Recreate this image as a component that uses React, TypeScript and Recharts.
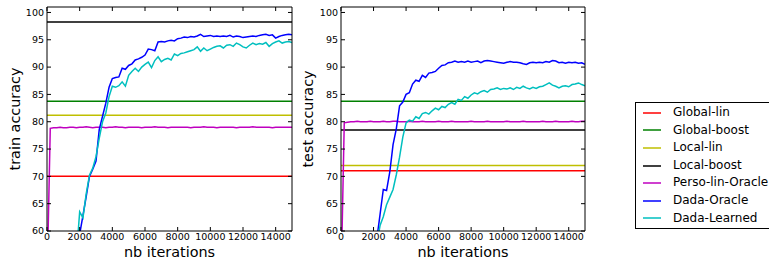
import React from 'react';
import { LineChart, Line, XAxis, YAxis } from 'recharts';

const FONT = '"DejaVu Sans", sans-serif';

// evaluation points (nb iterations)
const iterations = [
  0, 200, 400, 600, 800, 1000, 1200, 1400, 1600, 1800,
  2000, 2200, 2400, 2600, 2800, 3000, 3200, 3400, 3600, 3800,
  4000, 4200, 4400, 4600, 4800, 5000, 5200, 5400, 5600, 5800,
  6000, 6200, 6400, 6600, 6800, 7000, 7200, 7400, 7600, 7800,
  8000, 8200, 8400, 8600, 8800, 9000, 9200, 9400, 9600, 9800,
  10000, 10200, 10400, 10600, 10800, 11000, 11200, 11400, 11600, 11800,
  12000, 12200, 12400, 12600, 12800, 13000, 13200, 13400, 13600, 13800,
  14000, 14200, 14400, 14600, 14800, 15000,
];

const methods = ['Global-lin', 'Global-boost', 'Local-lin', 'Local-boost', 'Perso-lin-Oracle', 'Dada-Oracle', 'Dada-Learned'];
const colors = ['#ff0000', '#008000', '#bfbf00', '#000000', '#bf00bf', '#0000ff', '#00bfbf'];

// constant baselines: Global-lin, Global-boost, Local-lin, Local-boost
const trainBaselines = [70.0, 83.75, 81.2, 98.25];
const testBaselines = [71.05, 83.75, 72.0, 78.5];

const trainOracle = [
  null, null, null, null, null, null, null, null, null, 56.8,
  59.4, 62.8, 66.3, 70.0, 71.3, 72.8, 78.6, 81.0, 83.4, 86.3,
  87.9, 88.1, 88.2, 89.8, 89.6, 90.3, 90.6, 91.3, 91.5, 91.8,
  92.2, 93.3, 93.2, 93.0, 94.6, 94.7, 94.6, 94.8, 94.9, 94.8,
  95.2, 95.3, 95.5, 95.4, 95.6, 95.5, 95.7, 96.0, 95.6, 95.7,
  95.8, 95.6, 95.7, 95.6, 95.7, 95.6, 95.8, 95.5, 95.7, 95.6,
  95.4, 95.5, 95.6, 95.7, 95.6, 95.8, 95.9, 96.0, 95.8, 95.9,
  95.3, 95.6, 95.8, 95.9, 96.0, 95.9,
];
const trainLearned = [
  null, null, null, null, null, null, null, null, null, 55.5,
  63.5, 62.4, 66.8, 70.2, 71.5, 73.6, 77.0, 80.0, 81.6, 84.6,
  86.5, 86.3, 86.6, 87.3, 86.5, 88.5, 89.2, 89.8, 89.2, 90.0,
  90.5, 90.9, 89.9, 91.2, 91.9, 91.0, 91.4, 91.6, 91.3, 92.4,
  92.1, 92.5, 92.6, 92.8, 93.0, 93.2, 93.7, 92.9, 93.5, 93.0,
  93.3, 93.6, 93.8, 93.9, 93.5, 94.0, 94.1, 93.8, 94.4, 94.1,
  93.7, 93.5, 94.0, 94.4, 94.1, 94.3, 94.2, 94.5, 93.8, 94.3,
  94.6, 94.8, 94.4, 94.6, 94.7, 94.5,
];
const trainPerso = [
  50.0, 78.8, 78.9, 78.9, 79.0, 78.9, 78.9, 79.0, 79.0, 78.9,
  79.0, 79.0, 79.1, 79.0, 78.9, 79.0, 79.0, 79.0, 78.9, 79.0,
  79.0, 79.1, 79.0, 79.0, 78.9, 79.0, 79.0, 79.0, 79.0, 78.9,
  79.0, 79.0, 79.0, 79.1, 79.0, 79.0, 79.0, 78.9, 79.0, 79.0,
  79.0, 79.0, 79.0, 79.0, 78.9, 79.0, 79.0, 79.0, 79.1, 79.0,
  79.0, 79.0, 78.9, 79.0, 79.0, 79.0, 79.0, 79.0, 78.9, 79.0,
  79.0, 79.0, 79.0, 79.1, 79.0, 79.0, 79.0, 79.0, 79.0, 78.9,
  79.0, 79.0, 79.0, 79.0, 79.0, 79.0,
];

const testOracle = [
  null, null, null, null, null, null, null, null, null, null,
  55.0, 58.5, 63.0, 67.6, 67.4, 70.8, 75.8, 78.7, 82.9, 83.6,
  85.0, 85.3, 86.9, 87.6, 87.4, 88.5, 88.1, 88.9, 89.0, 89.2,
  89.8, 90.3, 90.4, 90.8, 90.9, 91.1, 90.9, 91.0, 90.9, 91.1,
  90.9, 91.0, 91.1, 90.8, 91.1, 91.2, 91.1, 91.0, 90.9, 90.8,
  90.7, 90.9, 91.0, 90.9, 90.9, 90.8, 90.6, 90.5, 90.8, 90.9,
  90.8, 90.9, 90.8, 91.0, 90.9, 91.2, 91.1, 90.8, 90.9, 90.7,
  90.9, 90.8, 90.9, 90.7, 90.8, 90.5,
];
const testLearned = [
  null, null, null, null, null, null, null, null, null, null,
  54.0, 57.5, 61.0, 62.6, 64.8, 66.2, 67.6, 70.3, 73.5, 77.2,
  79.8, 80.3, 80.1, 80.9, 80.6, 81.5, 81.7, 81.4, 82.0, 82.5,
  82.2, 82.8, 82.6, 83.2, 83.5, 83.2, 84.1, 83.9, 84.6, 84.3,
  84.9, 85.3, 85.1, 85.5, 85.7, 85.4, 85.9, 86.0, 86.2, 85.9,
  86.1, 86.0, 86.2, 85.9, 86.3, 86.1, 86.5, 86.2, 86.0, 86.3,
  86.1, 86.4, 86.5, 86.8, 87.1, 86.7, 86.5, 86.2, 86.5, 86.6,
  86.4, 86.8, 86.9, 87.1, 86.8, 86.6,
];
const testPerso = [
  50.0, 79.8, 79.9, 80.0, 80.0, 80.1, 80.0, 80.0, 80.0, 80.1,
  80.0, 80.0, 80.0, 80.1, 80.0, 80.0, 80.1, 80.1, 80.0, 80.0,
  80.0, 80.1, 80.0, 80.0, 80.0, 80.1, 80.0, 80.0, 80.0, 80.0,
  80.1, 80.0, 80.0, 80.0, 80.1, 80.0, 80.0, 80.0, 80.0, 80.0,
  80.1, 80.0, 80.0, 80.0, 80.0, 80.1, 80.0, 80.0, 80.0, 80.0,
  80.0, 80.1, 80.0, 80.0, 80.0, 80.0, 80.1, 80.0, 80.0, 80.0,
  80.0, 80.0, 80.1, 80.0, 80.0, 80.0, 80.1, 80.0, 80.0, 80.0,
  80.0, 80.1, 80.0, 80.0, 80.1, 80.1,
];

const xTicks = [0, 2000, 4000, 6000, 8000, 10000, 12000, 14000];
const yTicks = [60, 65, 70, 75, 80, 85, 90, 95, 100];
const xDomain = [0, 15000];
const yDomain = [60, 101];

type PanelProps = {
  left: number;
  yAxisWidth: number;
  ylabel: string;
  baselines: number[];
  oracle: (number | null)[];
  learned: (number | null)[];
  perso: number[];
};

function Panel({ left, yAxisWidth, ylabel, baselines, oracle, learned, perso }: PanelProps) {
  const rows = iterations.map((x, i) => ({ x, perso: perso[i], oracle: oracle[i], learned: learned[i] }));
  const tickStyle = { fill: '#000', fontSize: 9.5, fontFamily: FONT };
  return (
    <div style={{ position: 'absolute', left, top: 0 }}>
      <LineChart width={320} height={260} data={rows} margin={{ top: 6, right: 27, bottom: 0, left: 0 }}>
        <XAxis dataKey="x" type="number" domain={xDomain} ticks={xTicks} interval={0} allowDataOverflow
          height={29} tickSize={-4} tickMargin={6} stroke="#000" tick={tickStyle}
          label={{ value: 'nb iterations', position: 'insideBottom', offset: 3, fill: '#000', fontSize: 14.4, fontFamily: FONT }} />
        {/* frame top / right with inward ticks, no labels */}
        <XAxis xAxisId="top" dataKey="x" orientation="top" type="number" domain={xDomain} ticks={xTicks} interval={0}
          allowDataOverflow height={1} tickSize={-4} stroke="#000" tickFormatter={() => ''} />
        <YAxis type="number" domain={yDomain} ticks={yTicks} interval={0} allowDataOverflow
          width={yAxisWidth} tickSize={-4} tickMargin={7} stroke="#000" tick={tickStyle}
          label={{ value: ylabel, angle: -90, position: 'insideLeft', offset: 15, fill: '#000', fontSize: 14.4, fontFamily: FONT, style: { textAnchor: 'middle' } }} />
        <YAxis yAxisId="right" orientation="right" type="number" domain={yDomain} ticks={yTicks} interval={0}
          allowDataOverflow width={1} tickSize={-4} stroke="#000" tickFormatter={() => ''} />
        {baselines.map((v, i) => (
          <Line key={methods[i]} name={methods[i]} data={[{ x: xDomain[0], y: v }, { x: xDomain[1], y: v }]}
            xAxisId={i === 3 ? 'top' : 0} yAxisId={i === 3 ? 'right' : 0}
            dataKey="y" stroke={colors[i]} strokeWidth={1.5} dot={false} isAnimationActive={false} />
        ))}
        <Line dataKey="perso" name={methods[4]} stroke={colors[4]} strokeWidth={1.5} dot={false} isAnimationActive={false} />
        <Line dataKey="oracle" name={methods[5]} stroke={colors[5]} strokeWidth={1.5} dot={false} isAnimationActive={false} />
        <Line dataKey="learned" name={methods[6]} stroke={colors[6]} strokeWidth={1.5} dot={false} isAnimationActive={false} />
      </LineChart>
    </div>
  );
}

function FigureLegend() {
  return (
    <div style={{ position: 'absolute', left: 635, top: 102, width: 150, border: '1px solid #000', padding: '1px 0',
      background: '#fff', fontFamily: FONT, fontSize: 12, color: '#000' }}>
      {methods.map((m, i) => (
        <div key={m} style={{ height: 17.6, display: 'flex', alignItems: 'center' }}>
          <svg width={18} height={4} style={{ marginLeft: 7, marginRight: 12 }}>
            <line x1={0} x2={18} y1={2} y2={2} stroke={colors[i]} strokeWidth={1.5} />
          </svg>
          <span style={{ whiteSpace: 'nowrap', lineHeight: '17.6px' }}>{m}</span>
        </div>
      ))}
    </div>
  );
}

export default function App() {
  return (
    <div style={{ position: 'absolute', left: 0, top: 0, width: 769, height: 260, overflow: 'hidden', background: '#fff' }}>
      <Panel left={0} yAxisWidth={47} ylabel="train accuracy" baselines={trainBaselines}
        oracle={trainOracle} learned={trainLearned} perso={trainPerso} />
      <Panel left={293} yAxisWidth={48} ylabel="test accuracy" baselines={testBaselines}
        oracle={testOracle} learned={testLearned} perso={testPerso} />
      <FigureLegend />
    </div>
  );
}
